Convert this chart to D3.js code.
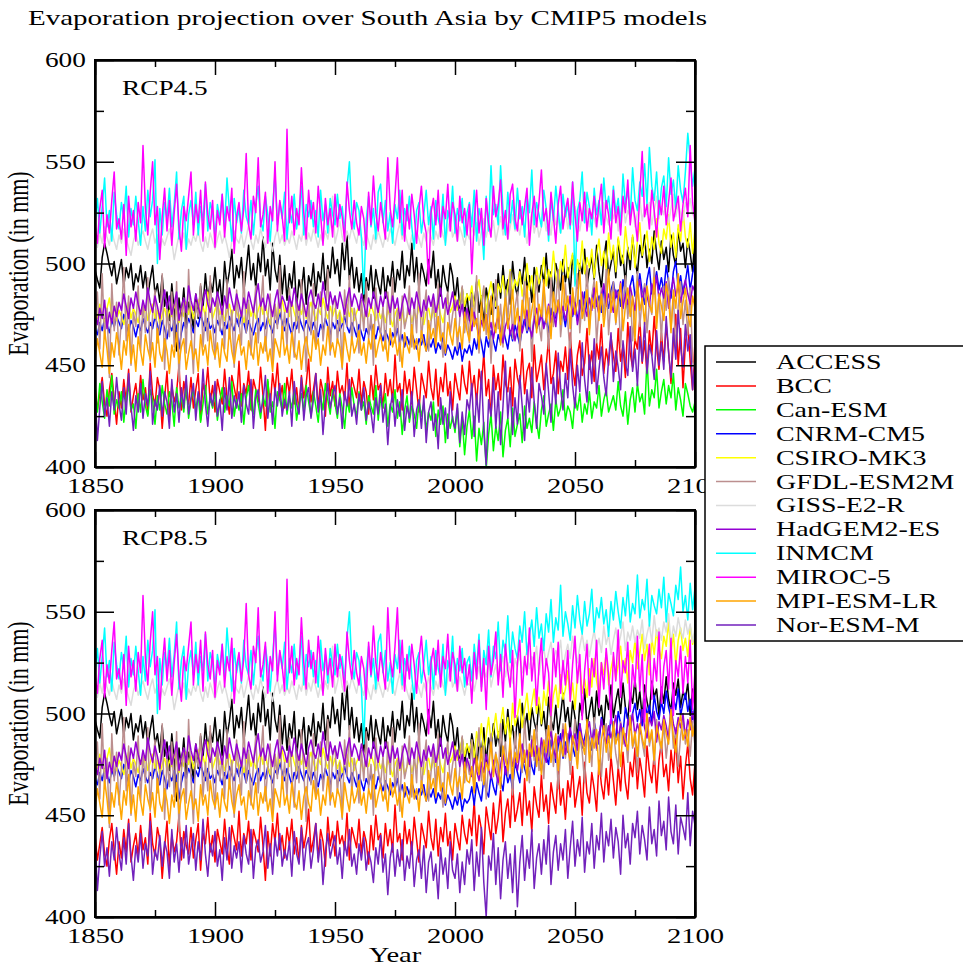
<!DOCTYPE html>
<html>
<head>
<meta charset="utf-8">
<script src="https://cdn.jsdelivr.net/npm/d3@7"></script>
<style>
  html, body { margin: 0; padding: 0; background: #fff; }
  svg { display: block; }
  text { font-family: "Liberation Serif", "Times New Roman", "DejaVu Serif", serif; fill: #000; }
</style>
</head>
<body>
<svg id="chart" width="963" height="968"></svg>
<script>
// ---------------- data ----------------
const years = d3.range(1850, 2101);
const models = ["ACCESS", "BCC", "Can-ESM", "CNRM-CM5", "CSIRO-MK3", "GFDL-ESM2M",
                "GISS-E2-R", "HadGEM2-ES", "INMCM", "MIROC-5", "MPI-ESM-LR", "Nor-ESM-M"];
const colors = ["#000000", "#ff0000", "#00ff00", "#0000ff", "#ffff00", "#bc8f8f",
                "#dcdcdc", "#9400d3", "#00ffff", "#ff00ff", "#ffa500", "#7221bc"];
const yTicks = [400, 450, 500, 550, 600];
const xTicks = [1850, 1900, 1950, 2000, 2050, 2100];
const panelLabels = ["RCP4.5", "RCP8.5"];

// historical run 1850-2005 (mm)
const ACCESS_hist = [
  497,492,488,503,510,505,499,494,501,490, 496,502,489,498,493,500,487,495,491,499,
  488,496,484,492,499,485,490,481,494,479, 486,472,490,477,457,483,474,488,470,481,
  476,468,485,473,489,478,495,482,491,486, 498,484,492,479,501,489,496,507,488,499,
  493,503,486,497,509,492,500,488,505,496, 513,494,502,487,510,497,491,504,485,499,
  482,495,488,501,478,492,486,498,480,494, 489,500,484,496,491,505,487,499,493,508,
  495,502,489,510,497,514,492,503,488,498, 486,495,481,493,487,499,483,497,490,485,
  498,483,494,489,501,486,497,492,506,488, 499,494,510,491,503,487,500,495,489,502,
  493,506,488,497,484,499,491,486,500,494, 482,493,478,488,475,485];
const BCC_hist = [
  440,428,436,444,431,425,438,446,433,421, 437,429,443,432,448,427,435,441,430,445,
  433,439,426,451,436,430,444,438,419,434, 447,425,440,432,437,450,428,442,435,431,
  444,429,438,446,423,441,436,449,432,440, 427,443,437,431,448,434,426,445,439,433,
  452,430,441,436,447,428,443,438,432,449, 435,418,442,430,446,437,451,433,440,429,
  444,436,448,431,439,427,445,434,441,453, 432,438,446,429,443,437,425,449,435,442,
  430,447,436,440,433,451,428,444,439,434, 448,431,442,437,426,445,433,450,438,441,
  429,446,435,443,432,455,437,441,428,447, 436,443,431,449,438,427,446,440,434,452,
  439,433,448,430,444,437,451,435,442,428, 446,439,433,450,441,436];
const CanESM_hist = [
  436,427,441,432,424,438,430,445,426,433, 429,437,422,434,440,428,431,419,436,427,
  443,430,425,438,433,421,435,428,440,431, 426,437,432,420,439,429,434,427,441,424,
  433,438,428,436,422,431,440,426,434,429, 437,423,432,439,427,435,430,442,425,433,
  428,436,421,434,440,429,426,438,431,424, 435,430,443,427,432,419,437,433,428,441,
  426,434,429,438,423,431,436,427,440,432, 425,437,430,422,435,428,441,433,426,438,
  431,424,436,429,419,433,427,439,430,425, 437,428,432,421,435,430,426,440,423,434,
  429,436,420,431,427,438,424,432,416,428, 435,422,430,426,419,433,425,431,418,427,
  423,432,415,428,421,430,412,426,419,425, 417,429,410,424,406,420];
const CNRM_hist = [
  468,465,471,467,473,470,466,472,469,474, 471,468,475,470,466,472,469,464,470,467,
  473,469,466,471,468,474,470,465,472,468, 463,470,467,472,469,458,466,471,468,473,
  470,466,472,469,475,471,467,473,468,470, 466,472,469,465,471,468,474,470,467,473,
  469,475,471,466,472,468,465,470,473,467, 471,468,474,469,466,472,470,476,471,467,
  473,469,465,471,468,474,470,467,472,469, 466,471,468,464,470,467,473,469,465,471,
  468,472,467,470,474,469,466,471,468,464, 470,466,462,468,465,471,467,463,469,466,
  462,467,464,460,466,463,468,461,465,459, 464,460,466,462,458,463,460,465,457,462,
  459,463,456,461,458,464,455,460,457,453, 459,455,461,452,458,456];
const CSIRO_hist = [
  476,473,480,475,471,478,483,474,479,472, 477,474,470,476,481,473,478,475,471,477,
  474,479,472,476,480,473,477,470,475,478, 472,477,474,480,476,471,478,474,481,475,
  479,473,477,482,475,479,474,486,478,473, 477,481,475,478,472,476,480,474,479,476,
  473,477,471,476,480,474,478,473,477,481, 475,479,474,470,476,480,473,477,482,476,
  478,474,481,476,472,479,475,480,473,477, 481,476,472,478,475,483,477,473,479,474,
  478,473,477,471,476,480,474,478,472,476, 479,475,471,477,474,480,476,472,478,473,
  476,471,477,474,469,475,478,472,476,470, 474,477,471,476,473,479,474,470,476,478,
  472,477,474,480,475,471,478,482,476,479, 484,477,481,488,479,485];
const GFDL_hist = [
  472,486,458,495,463,478,444,490,467,481, 455,473,498,462,484,450,476,469,489,457,
  480,466,493,452,475,487,461,470,495,448, 478,464,486,459,491,442,472,483,456,497,
  468,446,481,474,490,459,476,462,494,470, 453,485,467,479,458,492,463,477,449,487,
  471,460,496,466,482,455,475,489,461,478, 494,457,473,485,451,480,468,499,463,476,
  459,488,470,454,483,466,492,472,447,481, 465,490,458,477,486,462,474,497,455,479,
  484,461,476,448,487,469,494,460,478,471, 456,482,467,491,463,475,450,488,472,465,
  479,458,486,470,493,461,477,452,484,468, 474,489,459,481,466,495,463,476,487,457,
  471,483,462,490,468,454,479,486,465,475, 482,458,473,489,466,477];
const GISS_hist = [
  512,508,515,510,518,513,509,516,511,507, 514,510,517,512,508,504,511,515,509,513,
  516,511,507,513,517,510,514,506,512,509, 513,517,511,502,508,514,510,515,507,512,
  509,514,511,516,510,506,513,508,515,511, 507,512,516,510,514,509,503,511,516,512,
  510,515,508,513,519,511,507,514,510,517, 512,508,515,511,506,513,517,510,514,509,
  513,510,516,512,507,514,511,518,509,515, 511,517,513,508,514,510,516,512,519,533,
  510,515,521,513,509,516,512,518,514,510, 517,513,509,515,511,507,514,510,516,512,
  508,514,511,517,513,509,515,520,512,516, 511,507,514,510,516,512,508,515,511,518,
  513,509,516,512,519,514,510,517,522,513, 516,511,518,514,509,515];
const HadGEM_hist = [
  475,470,478,473,482,468,476,471,479,474, 481,477,485,479,473,483,478,486,480,475,
  482,477,488,481,476,484,479,473,481,487, 478,484,475,480,486,472,479,483,476,489,
  482,477,485,479,474,482,487,480,476,483, 479,486,481,475,484,478,488,482,477,485,
  480,474,483,478,486,481,476,484,490,479, 483,477,485,480,474,482,487,478,484,481,
  476,484,479,488,482,477,485,480,474,483, 487,481,478,485,479,491,483,477,486,480,
  484,478,486,481,475,483,488,479,485,482, 477,485,480,474,483,478,486,481,476,484,
  479,486,482,476,484,478,483,473,480,485, 481,475,483,478,486,480,474,482,477,484,
  479,485,476,481,488,478,483,475,480,486, 477,482,474,480,471,478];
const INMCM_hist = [
  520,532,515,528,542,518,526,511,535,524, 517,530,522,538,513,527,519,533,521,509,
  528,516,536,523,531,551,500,527,514,530, 522,537,518,529,545,512,526,533,507,524,
  531,519,535,514,528,521,539,516,530,525, 513,529,522,534,518,542,526,511,532,520,
  527,515,536,523,519,531,514,529,538,521, 516,533,524,511,528,544,519,530,522,535,
  512,527,520,534,517,525,538,514,529,523, 531,518,526,513,536,521,529,515,532,524,
  519,534,522,528,515,537,550,524,517,530, 526,513,485,521,533,518,527,512,535,539,
  520,531,516,525,510,529,522,536,514,527, 521,533,518,507,526,530,515,524,536,519,
  528,512,531,522,517,534,509,526,520,538, 515,527,521,532,513,525];
const MIROC_hist = [
  519,510,527,536,508,524,515,531,545,517, 522,512,529,504,533,518,526,511,530,520,
  558,527,514,535,550,519,528,502,523,537, 516,531,509,525,539,518,506,528,521,533,
  545,514,529,520,536,511,540,524,517,531, 508,526,519,534,513,528,521,537,505,523,
  530,516,527,554,519,512,533,525,552,518, 524,535,510,528,521,550,516,531,523,511,
  566,520,533,514,527,519,547,525,512,536, 522,530,515,538,524,509,532,519,527,513,
  534,518,529,523,511,540,526,517,531,520, 514,528,522,507,535,519,543,525,516,530,
  521,512,552,527,518,533,552,520,536,511, 529,517,534,524,510,527,538,521,515,490,
  525,532,519,536,513,528,522,539,516,530, 524,511,533,520,527,514];
const MPI_hist = [
  452,463,456,449,467,458,446,461,454,466, 459,448,462,455,470,451,460,447,464,457,
  450,465,458,453,461,449,468,456,452,463, 457,446,460,454,466,451,459,463,448,456,
  462,453,458,447,465,455,460,450,467,458, 454,461,449,463,456,452,468,457,451,460,
  465,455,459,448,462,457,453,466,450,461, 456,464,452,458,447,463,459,454,469,455,
  460,451,466,457,453,462,448,459,464,456, 452,467,458,463,450,460,455,469,457,461,
  454,463,459,449,466,458,452,464,456,460, 467,455,461,451,463,458,470,454,460,465,
  457,462,452,468,459,464,455,461,449,466, 460,456,470,458,463,452,467,461,457,472,
  463,468,459,474,462,466,456,471,465,460, 473,464,469,458,476,467];
const NorESM_hist = [
  438,413,429,442,425,434,420,437,428,444, 431,423,439,426,446,430,418,435,427,441,
  424,436,430,447,421,433,428,440,425,437, 432,419,443,427,436,422,439,429,445,426,
  434,441,423,437,428,448,431,420,436,430, 442,425,433,418,439,428,444,424,435,429,
  437,422,440,431,426,443,419,434,438,427, 432,445,424,436,421,439,430,441,425,433,
  428,437,420,442,431,426,444,423,435,439, 424,433,446,427,438,416,432,441,429,435,
  440,426,434,419,437,430,443,425,431,421, 436,428,439,423,432,427,417,434,426,440,
  422,431,411,429,436,420,433,425,438,418, 430,424,437,415,428,433,419,435,412,427,
  432,418,426,409,434,421,429,414,437,423, 419,431,412,427,416,433];

// RCP4.5 scenario 2006-2100 (mm)
const ACCESS_rcp45 = [
  472,486,479,491,476,484,470,488,481,475, 490,478,495,483,499,486,492,480,501,489,
  484,497,490,503,487,494,481,498,492,486, 499,490,505,488,496,483,500,494,487,502,
  491,498,485,504,493,488,500,495,507,489, 497,503,492,509,496,488,502,511,494,500,
  506,493,512,499,504,490,508,497,513,501, 495,509,503,514,498,507,500,516,505,497,
  511,502,508,496,514,504,499,517,506,510, 498,512,505,496,514];
const BCC_rcp45 = [
  452,437,445,431,448,440,456,435,443,424, 450,438,446,433,455,441,437,449,430,453,
  444,439,458,436,447,451,434,460,442,448, 455,438,450,463,441,446,457,436,452,447,
  459,443,466,449,440,455,462,445,451,468, 448,457,442,461,453,470,446,458,450,464,
  455,447,468,452,460,444,471,456,449,463, 458,473,451,462,446,467,455,474,459,448,
  466,452,470,457,441,463,475,450,468,439, 461,470,452,438,462];
const CanESM_rcp45 = [
  428,414,425,403,419,411,422,399,416,426, 408,420,413,427,405,418,424,410,429,415,
  421,426,412,430,419,424,417,432,422,414, 428,435,420,426,431,418,433,425,429,438,
  423,430,427,419,434,428,436,422,431,426, 437,424,432,429,440,425,433,438,427,431,
  435,428,442,430,425,437,421,433,439,427, 441,432,436,426,453,430,438,434,448,429,
  437,443,431,440,434,446,428,439,433,425, 441,436,430,427,432];
const CNRM_rcp45 = [
  460,455,463,458,466,461,454,464,459,467, 462,457,465,461,469,463,458,467,462,470,
  465,460,468,473,466,470,463,474,468,471, 476,469,473,466,478,471,474,481,472,476,
  469,478,484,474,479,472,482,476,486,478, 473,483,488,479,484,476,489,482,478,487,
  491,483,487,479,492,485,477,489,494,484, 488,495,486,480,492,498,485,490,496,487,
  493,486,499,491,483,496,501,488,494,485, 491,499,487,495,501];
const CSIRO_rcp45 = [
  482,489,478,486,492,481,488,476,485,491, 484,479,490,486,494,481,488,497,485,492,
  489,496,484,491,500,487,494,482,498,490, 495,503,489,497,492,506,494,488,501,496,
  509,493,499,505,491,502,497,511,495,503, 498,507,493,504,512,499,506,497,515,502,
  509,496,513,505,500,518,507,502,514,498, 511,520,504,509,516,501,513,507,522,510,
  505,517,512,524,508,515,503,519,511,526, 513,508,520,505,517];
const GFDL_rcp45 = [
  461,485,470,494,456,478,489,465,482,451, 475,492,468,480,459,487,472,496,463,478,
  486,457,474,491,467,483,452,479,494,470, 462,488,476,458,493,469,481,497,464,477,
  490,471,455,486,479,495,466,483,472,499, 468,484,492,461,478,488,474,497,465,482,
  491,470,486,459,480,494,473,487,462,478, 496,469,483,490,466,481,475,498,471,485,
  462,489,477,493,468,484,457,479,491,470, 482,465,488,452,447];
const GISS_rcp45 = [
  512,518,514,520,509,516,522,513,519,515, 521,511,517,523,514,519,512,518,524,516,
  520,514,522,517,510,519,525,515,521,513, 518,524,516,521,514,526,519,522,515,520,
  527,517,523,519,528,521,516,524,520,529, 518,525,522,517,526,521,530,523,519,527,
  522,528,516,524,531,520,526,523,529,518, 525,532,521,527,524,530,519,526,533,522,
  528,524,531,520,527,534,523,529,525,521, 530,526,532,524,528];
const HadGEM_rcp45 = [
  473,467,476,470,464,472,468,475,466,471, 463,470,474,467,461,469,473,465,470,462,
  468,474,466,471,477,469,464,472,478,470, 475,468,473,480,471,476,469,482,474,479,
  472,478,484,475,481,470,477,486,479,474, 483,477,488,480,475,484,490,479,485,481,
  476,487,482,491,478,485,480,489,483,477, 486,492,481,488,484,479,490,485,494,482,
  488,483,491,478,486,493,484,489,481,487, 492,485,480,489,486];
const INMCM_rcp45 = [
  530,518,536,511,527,521,502,533,516,548, 524,529,519,548,526,514,535,520,531,517,
  537,522,528,513,533,525,546,519,530,524, 518,536,527,511,532,521,538,526,515,534,
  523,529,517,540,489,526,531,545,520,535, 528,514,537,524,531,519,542,527,533,521,
  538,525,532,518,544,529,536,522,547,531, 526,540,533,549,529,557,538,531,545,524,
  537,543,528,552,534,541,527,548,536,530, 545,564,551,538,547];
const MIROC_rcp45 = [
  529,495,521,536,515,527,509,532,520,513, 538,523,529,541,517,526,512,534,539,522,
  516,531,519,528,537,509,524,533,518,530, 546,521,527,514,535,523,510,529,538,517,
  526,532,519,540,524,511,530,521,535,516, 527,522,533,518,529,539,515,531,524,512,
  536,520,528,514,533,525,541,519,530,522, 511,534,555,523,529,517,536,526,513,531,
  524,538,519,530,542,521,527,533,516,529, 537,523,558,530,520];
const MPI_rcp45 = [
  462,478,469,473,458,481,467,475,463,484, 471,466,479,460,474,483,468,476,487,470,
  478,464,482,473,489,469,477,485,466,480, 474,492,471,479,463,486,476,482,470,494,
  477,484,468,488,475,481,496,473,479,487, 465,483,478,491,472,485,469,480,497,476,
  486,471,482,490,467,479,488,474,484,462, 491,477,483,470,489,480,476,493,468,485,
  479,472,490,483,466,487,478,495,473,481, 488,475,469,484,478];
const NorESM_rcp45 = [
  428,441,415,436,422,447,418,401,433,425, 444,419,437,411,430,452,424,439,416,434,
  421,445,430,413,438,427,449,432,419,441, 435,426,451,437,422,444,431,456,439,428,
  446,434,458,440,429,450,437,461,443,432, 455,441,463,436,448,459,444,435,453,466,
  442,457,449,438,462,451,445,469,447,458, 440,464,452,471,446,460,455,443,467,450,
  461,448,474,456,444,468,453,477,459,449, 470,457,465,438,452];

// RCP8.5 scenario 2006-2100 (mm); Can-ESM has no RCP8.5 run here
const ACCESS_rcp85 = [
  478,490,483,472,487,480,493,476,488,482, 495,484,491,479,497,486,502,489,494,483,
  499,488,505,493,500,487,503,496,491,507, 494,501,489,508,497,492,504,490,499,510,
  496,503,491,506,498,488,505,499,512,494, 501,508,495,511,499,504,493,509,502,514,
  498,506,512,500,515,503,497,510,505,517, 502,511,498,514,506,500,516,508,512,499,
  513,505,518,507,501,515,509,517,503,511, 507,515,499,512,504];
const BCC_rcp85 = [
  448,440,457,435,450,443,431,454,446,438, 456,441,449,462,437,451,458,444,466,447,
  453,461,445,468,450,457,442,464,455,449, 470,452,460,446,466,458,451,472,455,463,
  448,467,459,474,454,462,469,450,476,461, 456,471,463,452,477,465,458,473,460,479,
  467,455,474,462,481,466,458,476,469,483, 463,478,470,459,484,472,466,480,461,477,
  486,469,475,462,482,471,488,466,479,458, 474,485,468,460,476];
const CNRM_rcp85 = [
  458,464,455,466,461,457,468,462,459,470, 464,460,471,467,462,474,466,470,463,476,
  471,466,478,473,469,481,474,470,483,477, 472,485,479,475,487,480,476,484,490,478,
  486,481,492,484,479,489,495,483,488,493, 487,482,496,490,485,498,491,494,486,499,
  492,488,501,495,490,503,497,493,500,505, 496,502,494,507,499,504,495,509,501,497,
  506,500,511,503,498,508,502,512,499,505, 510,501,507,497,504];
const CSIRO_rcp85 = [
  481,487,478,491,484,495,480,489,498,486, 492,500,488,495,503,490,498,485,505,494,
  499,507,493,502,510,497,505,512,500,508, 495,511,504,516,499,509,514,503,519,507,
  512,521,506,515,502,518,524,510,517,508, 522,513,527,516,509,525,519,530,514,522,
  528,517,524,533,520,527,515,531,525,536, 522,530,539,526,534,519,537,529,541,532,
  527,538,533,545,530,539,524,536,542,531, 537,528,543,534,540];
const GFDL_rcp85 = [
  470,487,462,479,493,467,484,458,476,490, 473,481,465,495,478,486,469,482,460,491,
  476,488,471,497,480,466,489,477,494,472, 485,468,492,479,499,474,487,463,481,495,
  478,490,470,484,497,475,489,481,466,493, 486,474,498,482,491,469,487,495,477,484,
  492,480,473,496,485,490,476,499,483,488, 471,494,486,479,500,484,491,475,497,487,
  481,495,478,490,502,483,493,474,489,498, 485,492,479,496,484];
const GISS_rcp85 = [
  514,520,511,517,523,515,521,518,526,513, 519,524,516,522,528,518,525,521,515,527,
  523,529,520,526,531,522,528,525,533,519, 527,532,524,530,535,526,531,528,536,522,
  529,534,527,538,530,525,533,539,531,536, 528,535,541,532,537,530,543,534,539,529,
  536,542,533,538,545,531,540,536,543,535, 541,537,546,532,539,544,535,548,538,542,
  536,545,540,549,534,543,538,547,541,537, 546,539,544,535,542];
const HadGEM_rcp85 = [
  474,469,478,472,467,476,471,480,473,468, 477,471,466,475,481,470,476,483,474,479,
  472,480,485,476,482,474,487,479,484,477, 488,481,476,486,491,483,478,489,484,492,
  480,487,493,485,490,482,495,488,484,491, 496,486,492,483,489,497,490,485,494,488,
  493,499,487,495,490,484,497,492,500,489, 495,490,502,493,488,498,494,501,486,496,
  492,499,494,487,503,495,490,498,493,500, 488,497,492,501,494];
const INMCM_rcp85 = [
  528,516,534,522,539,513,531,524,541,518, 533,527,545,521,536,530,548,525,540,532,
  527,543,535,550,529,538,546,533,552,537, 544,531,549,540,556,535,547,541,563,538,
  550,544,536,553,542,558,546,539,555,543, 549,561,540,552,547,557,544,551,538,555,
  546,560,550,542,557,548,563,545,554,549, 568,547,556,551,566,543,558,553,549,561,
  552,567,545,559,554,548,563,556,572,550, 558,546,564,551,562];
const MIROC_rcp85 = [
  524,505,530,517,536,511,527,502,533,519, 526,540,514,529,508,534,521,513,531,498,
  525,536,509,528,519,542,516,530,504,523, 537,512,527,520,499,532,518,535,510,526,
  514,531,506,524,538,515,529,497,521,534, 509,527,518,536,503,525,512,532,519,495,
  530,516,541,508,526,520,535,501,524,513, 538,511,529,496,522,534,507,527,516,540,
  505,523,531,512,537,499,526,518,533,510, 528,515,536,502,521];
const MPI_rcp85 = [
  466,474,461,479,470,483,465,476,472,486, 469,480,475,463,484,477,472,488,468,481,
  476,490,473,482,467,485,479,492,474,483, 470,487,481,494,476,484,490,472,486,479,
  495,482,477,489,484,473,491,486,480,497, 476,488,483,492,470,487,494,481,489,478,
  496,485,490,474,493,487,482,498,484,491, 479,495,488,483,500,486,492,477,494,489,
  483,497,490,485,502,488,481,494,499,487, 492,484,498,489,495];
const NorESM_rcp85 = [
  426,438,413,432,420,444,417,400,430,423, 441,416,434,409,428,437,419,431,412,435,
  405,427,440,418,433,424,443,414,429,436, 421,438,426,445,416,432,440,423,436,428,
  443,419,434,447,425,438,430,449,422,437, 431,446,424,440,433,451,427,442,435,448,
  429,444,437,421,450,434,441,426,446,439, 452,431,445,438,428,454,436,443,430,457,
  440,447,433,459,442,436,455,431,449,444, 438,461,435,452,445];

// one entry per model, in legend order; null where a run is missing
const rcp45Runs = [
  ACCESS_hist.concat(ACCESS_rcp45), BCC_hist.concat(BCC_rcp45), CanESM_hist.concat(CanESM_rcp45),
  CNRM_hist.concat(CNRM_rcp45), CSIRO_hist.concat(CSIRO_rcp45), GFDL_hist.concat(GFDL_rcp45),
  GISS_hist.concat(GISS_rcp45), HadGEM_hist.concat(HadGEM_rcp45), INMCM_hist.concat(INMCM_rcp45),
  MIROC_hist.concat(MIROC_rcp45), MPI_hist.concat(MPI_rcp45), NorESM_hist.concat(NorESM_rcp45)];
const rcp85Runs = [
  ACCESS_hist.concat(ACCESS_rcp85), BCC_hist.concat(BCC_rcp85), null,
  CNRM_hist.concat(CNRM_rcp85), CSIRO_hist.concat(CSIRO_rcp85), GFDL_hist.concat(GFDL_rcp85),
  GISS_hist.concat(GISS_rcp85), HadGEM_hist.concat(HadGEM_rcp85), INMCM_hist.concat(INMCM_rcp85),
  MIROC_hist.concat(MIROC_rcp85), MPI_hist.concat(MPI_rcp85), NorESM_hist.concat(NorESM_rcp85)];

// ---------------- layout ----------------
const svg = d3.select("#chart");
const SX = 1.3;              // horizontal glyph stretch used by all labels
const left = 95, right = 695;
const panelTops = [60, 510];
const panelH = 407;

const x = d3.scaleLinear().domain([1850, 2100]).range([left, right]);

function stretchedText(g, px, py, str, size, anchor, sx) {
  return g.append("text")
    .attr("transform", `translate(${px},${py}) scale(${sx},1)`)
    .attr("text-anchor", anchor)
    .style("font-size", size + "px")
    .text(str);
}

// title
svg.append("text")
  .attr("x", 28).attr("y", 25)
  .attr("textLength", 679).attr("lengthAdjust", "spacingAndGlyphs")
  .style("font-size", "22px")
  .text("Evaporation projection over South Asia by CMIP5 models");

function drawPanel(idx, runs) {
  const top = panelTops[idx], bottom = top + panelH;
  const y = d3.scaleLinear().domain([400, 600]).range([bottom, top]);
  const g = svg.append("g");

  const clipId = "clip" + idx;
  svg.append("clipPath").attr("id", clipId)
    .append("rect").attr("x", left).attr("y", top).attr("width", right - left).attr("height", panelH);

  const line = d3.line().x((d, i) => x(years[i])).y(d => y(d));
  const lines = g.append("g").attr("clip-path", `url(#${clipId})`);
  runs.forEach((vals, k) => {
    if (!vals) return;
    lines.append("path")
      .attr("d", line(vals))
      .attr("fill", "none")
      .attr("stroke", colors[k])
      .attr("stroke-width", 1.5)
      .attr("stroke-linejoin", "round");
  });

  const minorX = d3.range(1875, 2100, 50);
  const minorY = [425, 475, 525, 575];

  // bottom axis with labels
  const bAx = g.append("g").attr("transform", `translate(0,${bottom})`)
    .call(d3.axisBottom(x).tickValues(xTicks).tickFormat(d3.format("d"))
      .tickSize(-15).tickSizeOuter(0).tickPadding(10));
  g.append("g").attr("transform", `translate(0,${bottom})`)
    .call(d3.axisBottom(x).tickValues(minorX).tickFormat("").tickSize(-7).tickSizeOuter(0));
  bAx.selectAll("text")
    .attr("transform", `scale(${SX},1)`)
    .style("font-size", "22px")
    .style("font-family", '"Liberation Serif", "Times New Roman", serif');

  // top axis
  g.append("g").attr("transform", `translate(0,${top})`)
    .call(d3.axisTop(x).tickValues(xTicks).tickFormat("").tickSize(-15).tickSizeOuter(0));
  g.append("g").attr("transform", `translate(0,${top})`)
    .call(d3.axisTop(x).tickValues(minorX).tickFormat("").tickSize(-7).tickSizeOuter(0));

  // left axis with labels
  const lAx = g.append("g").attr("transform", `translate(${left},0)`)
    .call(d3.axisLeft(y).tickValues(yTicks).tickFormat(d3.format("d"))
      .tickSize(-19).tickSizeOuter(0).tickPadding(7));
  g.append("g").attr("transform", `translate(${left},0)`)
    .call(d3.axisLeft(y).tickValues(minorY).tickFormat("").tickSize(-9).tickSizeOuter(0));
  lAx.selectAll("text")
    .attr("transform", `scale(${SX},1)`)
    .style("font-size", "21px")
    .style("font-family", '"Liberation Serif", "Times New Roman", serif');

  // right axis
  g.append("g").attr("transform", `translate(${right},0)`)
    .call(d3.axisRight(y).tickValues(yTicks).tickFormat("").tickSize(-19).tickSizeOuter(0));
  g.append("g").attr("transform", `translate(${right},0)`)
    .call(d3.axisRight(y).tickValues(minorY).tickFormat("").tickSize(-9).tickSizeOuter(0));

  g.selectAll(".domain").attr("stroke", "#000").attr("stroke-width", 2);
  g.selectAll(".tick line").attr("stroke", "#000").attr("stroke-width", 1.5);

  // frame
  g.append("rect").attr("x", left).attr("y", top).attr("width", right - left).attr("height", panelH)
    .attr("fill", "none").attr("stroke", "#000").attr("stroke-width", 2);

  // scenario label
  stretchedText(g, 122, top + 35, panelLabels[idx], 21, "start", SX);

  // y axis title
  g.append("text")
    .attr("transform", `translate(28,${(top + bottom) / 2}) scale(${SX},1) rotate(-90)`)
    .attr("text-anchor", "middle")
    .style("font-size", "22px")
    .text("Evaporation (in mm)");
}

drawPanel(0, rcp45Runs);
drawPanel(1, rcp85Runs);

// x axis title
stretchedText(svg, 395, 962, "Year", 22, "middle", SX);

// legend
const legend = svg.append("g");
legend.append("rect").attr("x", 705).attr("y", 346).attr("width", 275).attr("height", 295)
  .attr("fill", "#fff").attr("stroke", "#000").attr("stroke-width", 1.5);
const rowY = d3.scalePoint().domain(models).range([362, 625]);
models.forEach((m, k) => {
  const yy = rowY(m);
  legend.append("line").attr("x1", 716).attr("x2", 756).attr("y1", yy).attr("y2", yy)
    .attr("stroke", colors[k]).attr("stroke-width", 1.5);
  stretchedText(legend, 776, yy + 7, m, 22, "start", 1.27);
});
</script>
</body>
</html>
